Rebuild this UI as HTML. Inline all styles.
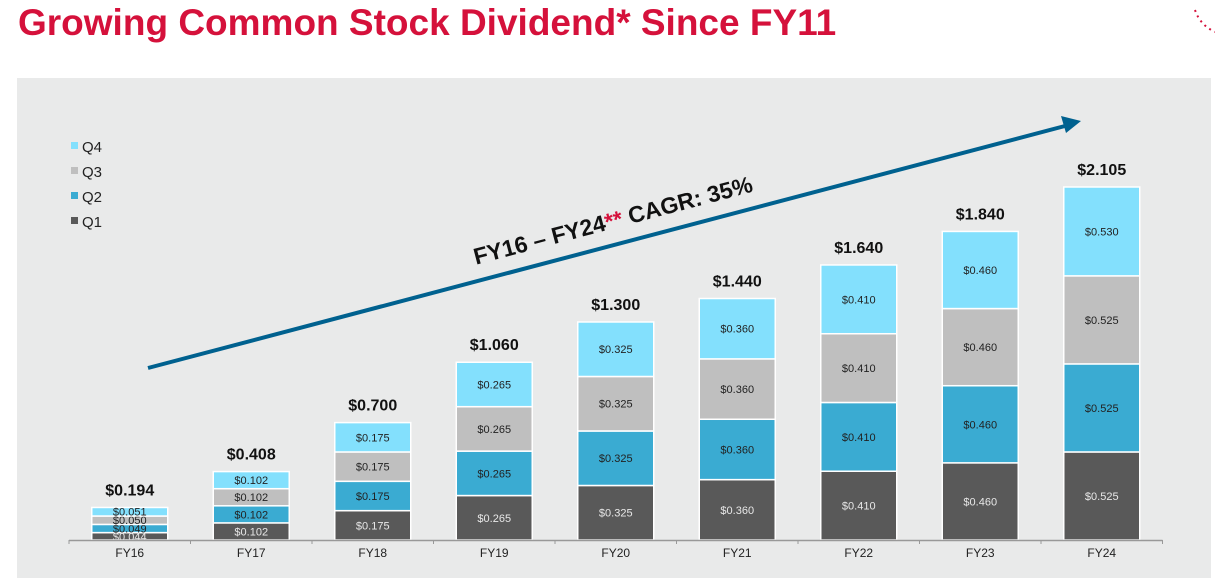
<!DOCTYPE html>
<html><head><meta charset="utf-8"><style>
body{margin:0;background:#fff;width:1215px;height:588px;overflow:hidden;font-family:"Liberation Sans",Arial,sans-serif}
#title{position:absolute;left:18px;top:2px;font-size:37px;font-weight:bold;color:#d5113b;white-space:nowrap}
</style></head><body>
<div id="title">Growing Common Stock Dividend* Since FY11</div>
<svg id="chart" width="1215" height="588" style="position:absolute;left:0;top:0">
<rect x="17" y="78" width="1194" height="500" fill="#e9eaea"/>
<g id="deco">
<path d="M1195 10 Q1200 25 1215 32" stroke="#d5113b" stroke-width="2" stroke-dasharray="2 4" fill="none"/>
</g>
<line x1="148" y1="368" x2="1065" y2="126" stroke="#00618f" stroke-width="4"/>
<polygon points="1081,121 1061,116 1066,133" fill="#00618f"/>
<text transform="translate(615,228) rotate(-14.8)" text-anchor="middle" font-size="23" font-weight="bold" fill="#111">FY16 – FY24<tspan fill="#d5113b">**</tspan> CAGR: 35%</text>
<g id="legend"></g>
<g id="bars"></g>
<g id="axis"></g>
</svg>
<script>
const categories=["FY16","FY17","FY18","FY19","FY20","FY21","FY22","FY23","FY24"];
const q1=[0.044,0.102,0.175,0.265,0.325,0.360,0.410,0.460,0.525];
const q2=[0.049,0.102,0.175,0.265,0.325,0.360,0.410,0.460,0.525];
const q3=[0.050,0.102,0.175,0.265,0.325,0.360,0.410,0.460,0.525];
const q4=[0.051,0.102,0.175,0.265,0.325,0.360,0.410,0.460,0.530];
const totals=["$0.194","$0.408","$0.700","$1.060","$1.300","$1.440","$1.640","$1.840","$2.105"];
const seriesNames=["Q1","Q2","Q3","Q4"];
const colors=["#595959","#3aabd2","#bfbfbf","#83e0fd"];
const NS="http://www.w3.org/2000/svg";
const base=540, pxPer=167.7, x0=69, step=121.5, bw=76;
const y=v=>base-v*pxPer;
const xc=i=>x0+step*(i+0.5);
function mk(t,a,p){const e=document.createElementNS(NS,t);for(const k in a)e.setAttribute(k,a[k]);p.appendChild(e);return e;}
const bars=document.getElementById('bars'),axis=document.getElementById('axis'),legend=document.getElementById('legend');
const series=[q1,q2,q3,q4];
categories.forEach((c,i)=>{
  let cum=0;
  series.forEach((s,k)=>{
    const v=s[i];
    const r=mk('rect',{x:xc(i)-bw/2,y:y(cum+v),width:bw,height:v*pxPer,fill:colors[k],stroke:'#fff','stroke-width':1.5},bars);
    
    
    const t=mk('text',{x:xc(i),y:y(cum+v/2)+4,'text-anchor':'middle','font-size':11,fill:k==0?'#e8e8e8':'#222'},bars);
    t.textContent='$'+v.toFixed(3);
    
    
    cum+=v;
  });
  const tt=mk('text',{x:xc(i),y:y(cum)-12,'text-anchor':'middle','font-size':16,'font-weight':'bold',fill:'#111'},bars);
  tt.textContent=totals[i];
  
  
  const xl=mk('text',{x:xc(i),y:557,'text-anchor':'middle','font-size':12,fill:'#222'},axis);
  xl.textContent=c;
  
  
});
const al=mk('line',{x1:x0,y1:base+0.5,x2:x0+step*categories.length,y2:base+0.5,stroke:'#999','stroke-width':1.5},axis);


for(let i=0;i<=categories.length;i++){
  const tk=mk('line',{x1:x0+step*i,y1:base,x2:x0+step*i,y2:base+4,stroke:'#999'},axis);
  
  
}
[3,2,1,0].forEach((k,j)=>{
  const g=mk('g',{},legend);
  
  
  mk('rect',{x:71,y:142+j*25,width:7,height:7,fill:colors[k]},g);
  const t=mk('text',{x:82,y:152+j*25,'font-size':15,fill:'#222'},g);
  t.textContent=seriesNames[k];
});
</script>
</body></html>
